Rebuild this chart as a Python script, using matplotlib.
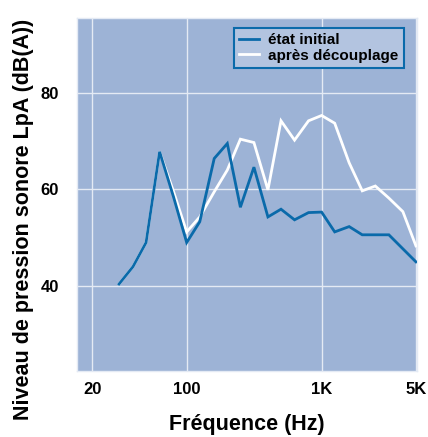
import matplotlib
matplotlib.use("Agg")
import matplotlib.pyplot as plt
from matplotlib.ticker import FixedLocator, NullLocator

plt.rcParams['font.family'] = ['Liberation Sans', 'DejaVu Sans']

freqs = [31.5, 40, 50, 63, 80, 100, 125, 160, 200, 250, 315, 400, 500, 630,
         800, 1000, 1250, 1600, 2000, 2500, 3150, 4000, 5000]
etat_initial = [40.4, 44.0, 49.0, 67.8, 58.4, 49.0, 53.3, 66.4, 69.5, 56.3, 64.6,
                54.3, 55.9, 53.7, 55.2, 55.3, 51.2, 52.3, 50.6, 50.6, 50.6, 47.7, 45.0]
apres_decouplage = [40.4, 44.0, 49.0, 67.8, 59.5, 51.2, 54.3, 59.5, 64.0, 70.4, 69.7,
                    59.9, 74.2, 70.2, 74.2, 75.3, 73.7, 65.5, 59.7, 60.7, 58.2, 55.4, 48.3]
xticks = [20, 100, 1000, 5000]
xticklabels = ['20', '100', '1K', '5K']
yticks = [40, 60, 80]

fig = plt.figure(figsize=(4.28, 4.37), dpi=100)
ax = fig.add_axes([0.180, 0.151, 0.794, 0.808])
ax.set_facecolor('#9db3d6')

ax.set_xscale('log')
ax.set_xlim(15.4, 5080)
ax.set_ylim(22.4, 95.5)

ax.plot(freqs, apres_decouplage, color='white', lw=2.0, label='après découplage',
        solid_joinstyle='miter', zorder=3)
ax.plot(freqs, etat_initial, color='#0a6aaa', lw=2.0, label='état initial',
        solid_joinstyle='miter', zorder=4)

ax.xaxis.set_major_locator(FixedLocator(xticks))
ax.xaxis.set_minor_locator(NullLocator())
ax.set_xticklabels(xticklabels)
ax.set_yticks(yticks)
ax.grid(True, color='#e4eaf4', lw=1.0, zorder=1)
ax.set_axisbelow(True)
ax.tick_params(axis='both', length=0, labelsize=12)
ax.tick_params(axis='y', pad=13)
ax.tick_params(axis='x', pad=8)
for lbl in ax.get_xticklabels() + ax.get_yticklabels():
    lbl.set_fontweight('bold')
for s in ax.spines.values():
    s.set_color('#e4eaf4')
    s.set_linewidth(1.0)

ax.set_xlabel('Fréquence (Hz)', fontsize=15.5, fontweight='bold')
ax.xaxis.set_label_coords(0.5, -0.122)
ax.xaxis.label.set_verticalalignment('top')
ax.set_ylabel('Niveau de pression sonore LpA (dB(A))', fontsize=15.5,
              fontweight='bold')
ax.yaxis.set_label_coords(-0.158, 0.43)
ax.yaxis.label.set_verticalalignment('center')

handles, labels = ax.get_legend_handles_labels()
leg = ax.legend(handles[::-1], labels[::-1], loc='upper right',
                bbox_to_anchor=(0.962, 0.972), borderaxespad=0.0,
                fancybox=False, frameon=True,
                handlelength=1.3, handletextpad=0.6, borderpad=0.35,
                labelspacing=0.1, prop={'weight': 'bold', 'size': 11})
leg.get_frame().set_facecolor('#b3c4e0')
leg.get_frame().set_edgecolor('#0a6aaa')
leg.get_frame().set_linewidth(1.5)
leg.get_frame().set_alpha(1)

fig.savefig('out.png', dpi=100)
